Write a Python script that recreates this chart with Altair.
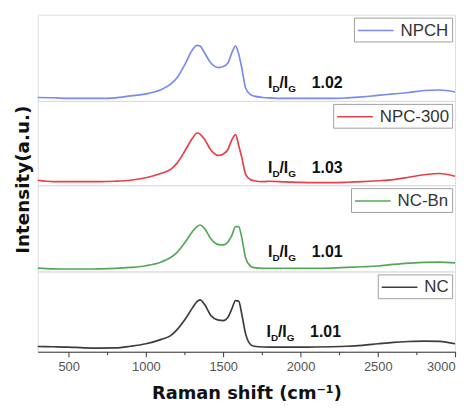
import altair as alt
import pandas as pd

# Raman shift grid (cm^-1)
shift = [300, 400, 500, 600, 700, 800, 900, 1000, 1100, 1160, 1200, 1250, 1300,
         1330, 1350, 1380, 1420, 1470, 1500, 1530, 1555, 1580, 1600, 1620, 1645,
         1675, 1700, 1760, 1800, 1900, 2000, 2100, 2200, 2300, 2400, 2500, 2600,
         2700, 2800, 2900, 3000]

# Intensities (a.u., % of each panel height)
npch = [4.0, 3.7, 2.9, 2.9, 2.9, 3.5, 5.8, 8.1, 13.3, 19.4, 26.6, 41.6, 59.0,
        64.5, 63.6, 55.5, 43.9, 38.7, 39.9, 43.9, 55.5, 63.6, 54.3, 38.2, 15.0,
        7.5, 5.5, 4.0, 3.5, 2.9, 2.9, 2.9, 2.9, 3.5, 4.6, 6.4, 8.1,
        9.8, 12.1, 12.7, 10.4]
npc300 = [5.9, 4.2, 4.2, 4.2, 4.2, 4.7, 5.9, 8.8, 14.1, 18.8, 25.9, 40.0, 55.3,
          61.9, 60.6, 54.1, 41.8, 35.3, 37.0, 42.4, 53.5, 60.0, 47.1, 33.0, 12.9,
          6.8, 5.3, 4.2, 4.7, 3.9, 3.3, 3.1, 3.1, 3.5, 4.2, 5.3, 6.7,
          9.4, 12.4, 13.9, 10.6]
ncbn = [3.9, 3.0, 2.8, 2.8, 3.0, 3.5, 4.6, 6.6, 11.0, 16.1, 21.9, 32.9, 46.1,
        51.9, 53.8, 49.6, 38.0, 31.1, 30.7, 34.0, 41.5, 51.9, 51.9, 39.2, 15.6,
        6.3, 4.4, 3.5, 3.5, 3.7, 3.5, 3.5, 3.8, 4.6, 5.4, 6.3, 8.1,
        9.6, 10.6, 10.8, 10.0]
nc = [6.5, 6.2, 5.8, 4.9, 4.6, 4.8, 6.8, 9.9, 15.4, 20.1, 27.2, 39.5, 54.3,
      62.4, 64.6, 58.7, 45.1, 39.3, 38.8, 42.6, 53.1, 63.6, 63.0, 46.9, 22.2,
      9.3, 6.8, 5.9, 5.8, 5.8, 5.8, 5.9, 6.2, 6.8, 8.0, 9.9, 11.7,
      12.7, 13.2, 13.0, 9.9]

names = ["NPCH", "NPC-300", "NC-Bn", "NC"]
series = [npch, npc300, ncbn, nc]
colors = ["#7b8af0", "#e8404b", "#55a855", "#3c3c3c"]
ratios = ["1.02", "1.03", "1.01", "1.01"]
ann_shift = [1790, 1790, 1790, 1780]
ann_level = [14.5, 14.8, 17.0, 18.0]
heights = [87, 85, 87, 81]

FONT = "Liberation Sans"
TFONT = "DejaVu Sans"

panels = []
for i, name in enumerate(names):
    last = i == len(names) - 1
    df = pd.DataFrame({"shift": shift, "intensity": series[i], "sample": name})
    ann = pd.DataFrame({"shift": [ann_shift[i]], "intensity": [ann_level[i]],
                        "txt": [ratios[i]]})

    if last:
        xaxis = alt.Axis(
            values=list(range(500, 3001, 250)),
            labelExpr="datum.value % 500 == 0 ? datum.label : ''",
            format="d",
            tickSize={"condition": {"test": "datum.value % 500 == 0", "value": 5}, "value": 3},
            tickColor="#333", domainColor="#333", labelColor="#555",
            labelFontSize=13, labelFont=FONT, labelPadding=4,
            grid=False, title="Raman shift (cm⁻¹)", titleFontSize=18,
            titleFont=TFONT, titleFontWeight="bold", titleColor="#111",
            titlePadding=11,
        )
    else:
        xaxis = None

    if i == 1:
        yaxis = alt.Axis(labels=False, ticks=False, domain=False, grid=False,
                         title="Intensity(a.u.)", titleFontSize=18.5, titleFont=TFONT,
                         titleFontWeight="bold", titleColor="#111",
                         titleY=79, titlePadding=5)
    else:
        yaxis = alt.Axis(labels=False, ticks=False, domain=False, grid=False, title=None)

    x = alt.X("shift:Q", scale=alt.Scale(domain=[300, 3000], nice=False, zero=False),
              axis=xaxis)
    y = alt.Y("intensity:Q", scale=alt.Scale(domain=[0, 100], nice=False), axis=yaxis)

    line = alt.Chart(df).mark_line(strokeWidth=1.7, interpolate="monotone").encode(
        x=x, y=y,
        color=alt.Color("sample:N",
                        scale=alt.Scale(domain=[name], range=[colors[i]]),
                        legend=alt.Legend(title=None, orient="top-right", offset=3,
                                          padding=3, strokeColor="#a0a0a0",
                                          fillColor="white", cornerRadius=0,
                                          symbolType="M-1,0H3", symbolSize=324,
                                          symbolStrokeWidth=1.6, labelFontSize=17,
                                          labelFont=FONT, labelColor="#333",
                                          labelOffset=24)),
    )

    base = alt.Chart(ann).encode(x=alt.X("shift:Q"), y=alt.Y("intensity:Q"))
    big = dict(font=FONT, fontWeight="bold", fontSize=16, color="#111",
               align="left", baseline="alphabetic")
    small = dict(font=FONT, fontWeight="bold", fontSize=10, color="#111",
                 align="left", baseline="alphabetic", dy=4)
    t1 = base.mark_text(text="I", dx=0, **big)
    t2 = base.mark_text(text="D", dx=4.5, **small)
    t3 = base.mark_text(text="/I", dx=11.5, **big)
    t4 = base.mark_text(text="G", dx=20.5, **small)
    t5 = base.mark_text(dx=44, **big).encode(text="txt:N")

    panel = alt.layer(line, t1, t2, t3, t4, t5).properties(width=421, height=heights[i])
    panels.append(panel)

chart = alt.vconcat(*panels, spacing=0, bounds="flush").resolve_scale(
    color="independent"
).resolve_legend(
    color="independent"
).properties(
    padding={"left": 5, "top": 4, "right": 5, "bottom": 0}
).configure_view(stroke="#333", strokeWidth=1.3).configure(font=FONT)

chart.save("out.html", embed_options={"renderer": "svg", "actions": False})
